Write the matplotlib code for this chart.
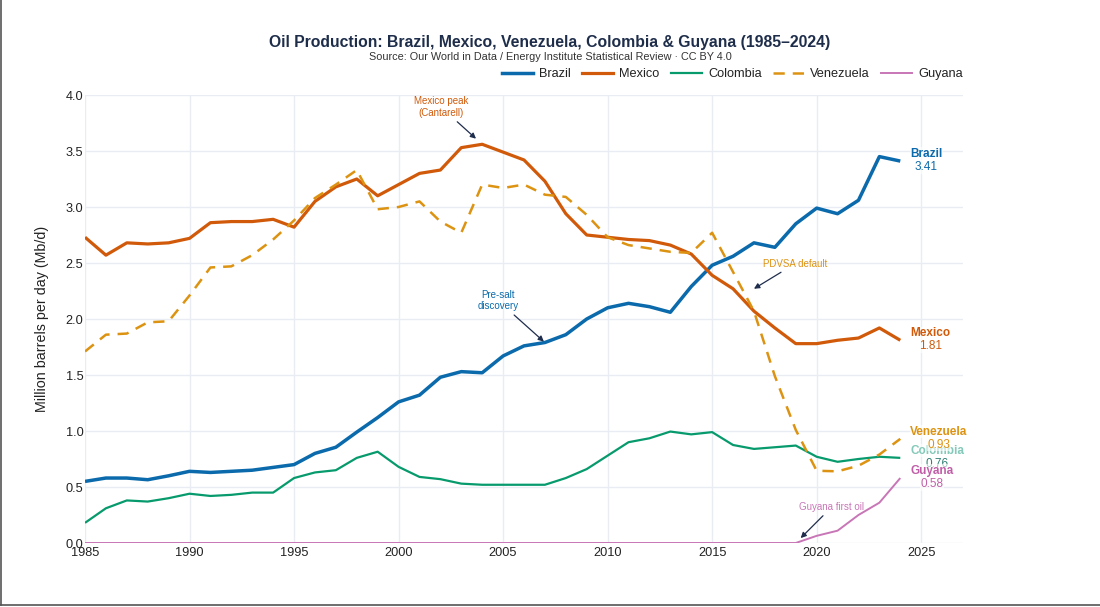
import matplotlib
matplotlib.use("Agg")
import matplotlib.pyplot as plt
from matplotlib.lines import Line2D

plt.rcParams['font.family'] = ['Liberation Sans', 'DejaVu Sans']

years = list(range(1985, 2025))

brazil = [0.55, 0.58, 0.58, 0.565, 0.60, 0.64, 0.63, 0.64, 0.65, 0.675,
          0.70, 0.80, 0.855, 0.99, 1.12, 1.26, 1.32, 1.48, 1.53, 1.52,
          1.67, 1.76, 1.79, 1.86, 2.00, 2.10, 2.14, 2.11, 2.06, 2.29,
          2.48, 2.56, 2.68, 2.64, 2.85, 2.99, 2.94, 3.06, 3.45, 3.41]
mexico = [2.73, 2.57, 2.68, 2.67, 2.68, 2.72, 2.86, 2.87, 2.87, 2.89,
          2.82, 3.05, 3.18, 3.25, 3.10, 3.20, 3.30, 3.33, 3.53, 3.56,
          3.49, 3.42, 3.23, 2.94, 2.75, 2.73, 2.71, 2.70, 2.66, 2.58,
          2.39, 2.27, 2.07, 1.92, 1.78, 1.78, 1.81, 1.83, 1.92, 1.81]
colombia = [0.18, 0.31, 0.38, 0.37, 0.40, 0.44, 0.42, 0.43, 0.45, 0.45,
            0.58, 0.63, 0.65, 0.76, 0.815, 0.68, 0.59, 0.57, 0.53, 0.52,
            0.52, 0.52, 0.52, 0.58, 0.66, 0.78, 0.90, 0.935, 0.995, 0.97,
            0.99, 0.875, 0.84, 0.855, 0.87, 0.77, 0.725, 0.75, 0.77, 0.76]
venezuela = [1.71, 1.86, 1.87, 1.97, 1.98, 2.21, 2.46, 2.47, 2.57, 2.71,
             2.88, 3.08, 3.20, 3.33, 2.98, 3.00, 3.05, 2.87, 2.77, 3.20,
             3.17, 3.20, 3.11, 3.09, 2.93, 2.73, 2.66, 2.63, 2.60, 2.59,
             2.77, 2.42, 2.07, 1.49, 1.01, 0.645, 0.64, 0.69, 0.79, 0.93]
guyana = [0.0, 0.0, 0.0, 0.0, 0.0, 0.0, 0.0, 0.0, 0.0, 0.0,
          0.0, 0.0, 0.0, 0.0, 0.0, 0.0, 0.0, 0.0, 0.0, 0.0,
          0.0, 0.0, 0.0, 0.0, 0.0, 0.0, 0.0, 0.0, 0.0, 0.0,
          0.0, 0.0, 0.0, 0.0, 0.0, 0.064, 0.11, 0.25, 0.36, 0.58]

series_names = ["Brazil", "Mexico", "Colombia", "Venezuela", "Guyana"]
x_ticks = [1985, 1990, 1995, 2000, 2005, 2010, 2015, 2020, 2025]
y_ticks = [0.0, 0.5, 1.0, 1.5, 2.0, 2.5, 3.0, 3.5, 4.0]

colors = {"Brazil": "#0b6aab", "Mexico": "#d05a0a", "Colombia": "#079a6c",
          "Venezuela": "#dd9312", "Guyana": "#c876b6"}
name_colors = {"Brazil": "#0b6aab", "Mexico": "#d05a0a", "Colombia": "#84c9b9",
               "Venezuela": "#dd9312", "Guyana": "#c05fa8"}
value_colors = {"Brazil": "#0b6aab", "Mexico": "#d05a0a", "Colombia": "#2f7f72",
                "Venezuela": "#dd9312", "Guyana": "#c05fa8"}
data = {"Brazil": brazil, "Mexico": mexico, "Colombia": colombia,
        "Venezuela": venezuela, "Guyana": guyana}
styles = {"Brazil": dict(lw=2.5), "Mexico": dict(lw=2.3), "Colombia": dict(lw=1.6),
          "Venezuela": dict(lw=1.8, dashes=(4.5, 3.2)), "Guyana": dict(lw=1.4)}

W, H = 1100, 607
fig = plt.figure(figsize=(W / 100, H / 100), dpi=100)
fig.patch.set_facecolor("white")
ax = fig.add_axes([85 / W, (H - 543) / H, (963 - 85) / W, (543 - 95) / H])
ax.set_facecolor("white")

for name in series_names:
    ax.plot(years, data[name], color=colors[name], label=name,
            solid_capstyle="butt", dash_capstyle="butt", zorder=3, **styles[name])

ax.set_xlim(1985, 2027)
ax.set_ylim(0, 4.0)
ax.set_xticks(x_ticks)
ax.set_yticks(y_ticks)
ax.set_yticklabels([f"{v:.1f}" for v in y_ticks])
ax.grid(True, color="#e9edf3", lw=1.0, zorder=0)
for s in ax.spines.values():
    s.set_visible(False)
ax.tick_params(axis="both", length=0, labelsize=9.2, labelcolor="#222222")
ax.tick_params(axis="y", pad=1)
ax.tick_params(axis="x", pad=3)
ax.set_ylabel("Million barrels per day (Mb/d)", fontsize=10.3, color="#222222", labelpad=12)

# end labels
order_z = 5
for name in series_names:
    v = data[name][-1]
    t = ax.annotate(name, xy=(years[-1], v), xytext=(10, 7), textcoords="offset pixels",
                    ha="left", va="center", fontsize=8.5, fontweight="bold",
                    color=name_colors[name], zorder=order_z,
                    bbox=dict(boxstyle="square,pad=0.05", fc="white", ec="none", alpha=0.6))
    ax.annotate(f"{v:.2f}", xy=(0.5, 0), xycoords=t, xytext=(0, -1), textcoords="offset pixels",
                ha="center", va="top", fontsize=8.5, color=value_colors[name], zorder=order_z,
                bbox=dict(boxstyle="square,pad=0.05", fc="white", ec="none", alpha=0.6))
    order_z += 1

arrow_kw = dict(arrowstyle="-|>", color="#1f2d4d", lw=0.9, mutation_scale=8, shrinkA=1)

ax.annotate("Mexico peak\n(Cantarell)", xy=(2004, mexico[years.index(2004)]),
            xytext=(-41, 37), textcoords="offset pixels", ha="center", va="center",
            fontsize=7, color=colors["Mexico"], zorder=10,
            arrowprops=dict(shrinkB=6, **arrow_kw))
ax.annotate("Pre-salt\ndiscovery", xy=(2007, brazil[years.index(2007)]),
            xytext=(-47, 42), textcoords="offset pixels", ha="center", va="center",
            fontsize=7, color=colors["Brazil"], zorder=10,
            arrowprops=dict(shrinkB=1, **arrow_kw))
ax.annotate("PDVSA default", xy=(2017, 2.27),
            xytext=(41, 25), textcoords="offset pixels", ha="center", va="center",
            fontsize=7, color=colors["Venezuela"], zorder=10,
            arrowprops=dict(shrinkB=0, **arrow_kw))
ax.annotate("Guyana first oil", xy=(2019, guyana[years.index(2019)]),
            xytext=(36, 36), textcoords="offset pixels", ha="center", va="center",
            fontsize=7, color=colors["Guyana"], zorder=10,
            arrowprops=dict(shrinkB=5, **arrow_kw))

fig.text(0.5, 1 - 42 / H, "Oil Production: Brazil, Mexico, Venezuela, Colombia & Guyana (1985\u20132024)",
         ha="center", va="center", fontsize=11.3, fontweight="bold", color="#1e2d4a")
fig.text(0.5, 1 - 57 / H, "Source: Our World in Data / Energy Institute Statistical Review \u00b7 CC BY 4.0",
         ha="center", va="center", fontsize=7.8, color="#333333")

handles = [Line2D([], [], color=colors[n], **styles[n]) for n in series_names]
fig.legend(handles, series_names, loc="center right", bbox_to_anchor=(963 / W, 1 - 74 / H),
           ncol=5, frameon=False, fontsize=9.2, handlelength=2.4, handletextpad=0.5,
           columnspacing=0.9, borderpad=0, borderaxespad=0, labelcolor="#222222")

# outer frame (left and bottom edges)
fig.add_artist(Line2D([0.5 / W, 0.5 / W], [2 / H, 1], color="#555555", lw=1.2,
                      transform=fig.transFigure))
fig.add_artist(Line2D([0, 1], [2 / H, 2 / H], color="#555555", lw=1.2,
                      transform=fig.transFigure))

fig.savefig("out.png", dpi=100, facecolor="white")
